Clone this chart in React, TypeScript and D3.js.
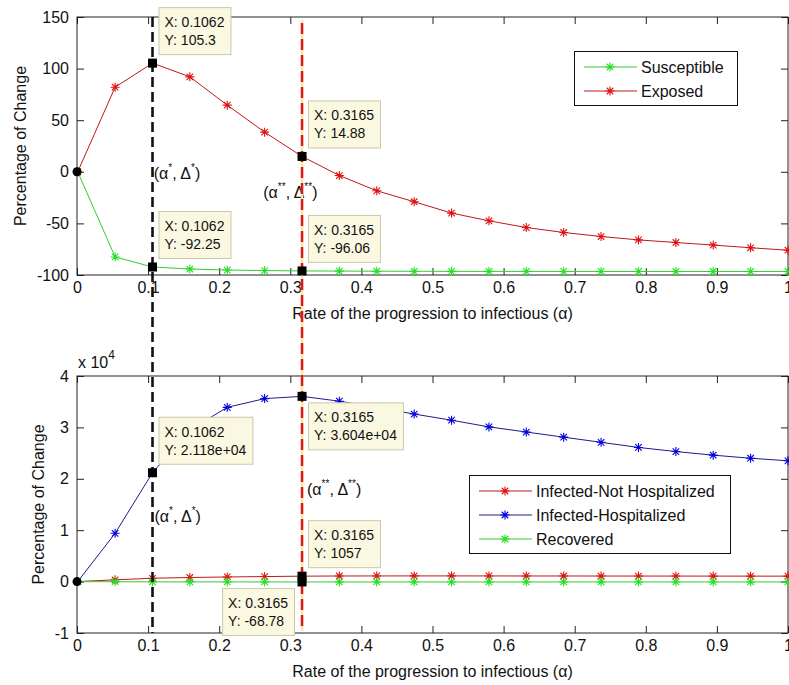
import React, { useEffect, useRef } from 'react';
import * as d3 from 'd3';

// rate of progression values (x) shared by every series
const alpha = [0.001, 0.0536, 0.1062, 0.1587, 0.2113, 0.2639, 0.3165, 0.369, 0.4216, 0.4742,
    0.5268, 0.5794, 0.6319, 0.6845, 0.7371, 0.7897, 0.8423, 0.8948, 0.9474, 1.0];

// top panel
const susceptible = [0, -82.5, -92.25, -94.2, -95.2, -95.7, -96.06, -96.2, -96.3, -96.4,
    -96.45, -96.5, -96.5, -96.55, -96.55, -96.6, -96.6, -96.6, -96.6, -96.6];
const exposed = [0, 82, 105.3, 92, 64.6, 38.4, 14.88, -3.6, -18.4, -29,
    -40, -47.5, -54, -58.8, -62.7, -66, -68.5, -71, -73.6, -76];

// bottom panel
const notHospitalized = [0, 350, 650, 800, 900, 980, 1057, 1090, 1100, 1105,
    1105, 1100, 1095, 1090, 1085, 1080, 1075, 1070, 1065, 1060];
const hospitalized = [0, 9400, 21180, 29500, 33900, 35600, 36040, 35100, 33900, 32600,
    31400, 30100, 29100, 28100, 27100, 26100, 25300, 24600, 24000, 23500];
const recovered = [0, -25, -48, -58, -64, -67, -68.78, -69.8, -70.3, -70.6,
    -70.8, -70.9, -71, -71, -71, -71, -71, -71, -71, -71];

const xTicks = [0, 0.1, 0.2, 0.3, 0.4, 0.5, 0.6, 0.7, 0.8, 0.9, 1];
const topYTicks = [-100, -50, 0, 50, 100, 150];
const bottomYTicks = [-10000, 0, 10000, 20000, 30000, 40000];

const alphaStar = 0.1062;
const alphaStarStar = 0.3165;

const topTips = [
    { x: 0.1062, y: 105.3, label: '105.3' },
    { x: 0.3165, y: 14.88, label: '14.88' },
    { x: 0.1062, y: -92.25, label: '-92.25' },
    { x: 0.3165, y: -96.06, label: '-96.06' },
];
const bottomTips = [
    { x: 0.1062, y: 21180, label: '2.118e+04' },
    { x: 0.3165, y: 36040, label: '3.604e+04' },
    { x: 0.3165, y: 1057, label: '1057' },
    { x: 0.3165, y: -68.78, label: '-68.78' },
];
const topTipPlace = ['ne', 'ne', 'ne', 'ne'];
const bottomTipPlace = ['ne', 'se', 'ne', 'sw'];

const topNotes = [
    { x: 0.108, y: -1, sup: '*' },
    { x: 0.262, y: -19.5, sup: '**' },
];
const bottomNotes = [
    { x: 0.109, y: 12800, sup: '*' },
    { x: 0.3235, y: 18000, sup: '**' },
];

const FONT = 'Liberation Sans, Arial, sans-serif';
const RED = { line: '#c01818', mark: '#e01010' };
const GREEN = { line: '#33cc33', mark: '#22e022' };
const BLUE = { line: '#1c1c90', mark: '#0000e0' };

const App = () => {
    const ref = useRef<SVGSVGElement>(null);

    useEffect(() => {
        const width = 789;
        const height = 685;
        const left = 77;
        const right = 788;
        const svg = d3.select(ref.current);
        svg.selectAll('*').remove();
        svg.attr('width', width).attr('height', height);

        svg.append('rect').attr('width', width).attr('height', height).attr('fill', 'white');

        const x = d3.scaleLinear().domain([0, 1]).range([left, right]);

        const star = (g, cx, cy, color) => {
            const r = 4.5;
            const d = r * 0.72;
            const p = `M${cx - r},${cy}L${cx + r},${cy}M${cx},${cy - r}L${cx},${cy + r}` +
                `M${cx - d},${cy - d}L${cx + d},${cy + d}M${cx - d},${cy + d}L${cx + d},${cy - d}`;
            g.append('path').attr('d', p).attr('stroke', color).attr('stroke-width', 1.1).attr('fill', 'none');
        };

        const panel = (top, bottom, yDomain, yTicks, yFmt, series, ylabelX) => {
            const y = d3.scaleLinear().domain(yDomain).range([bottom, top]);
            const g = svg.append('g');

            // axes with inward ticks on all four sides
            const styleAxis = (a) => {
                a.select('.domain').remove();
                a.selectAll('line').attr('stroke', '#222');
                a.selectAll('text').attr('font-family', FONT).attr('font-size', 16).attr('fill', '#111');
            };
            g.append('g').attr('transform', `translate(0,${bottom})`)
                .call(d3.axisBottom(x).tickValues(xTicks).tickSize(-7).tickSizeOuter(0).tickPadding(7)
                    .tickFormat(d => String(d)))
                .call(styleAxis);
            g.append('g').attr('transform', `translate(0,${top})`)
                .call(d3.axisTop(x).tickValues(xTicks).tickSize(-7).tickSizeOuter(0).tickFormat(() => ''))
                .call(styleAxis);
            g.append('g').attr('transform', `translate(${left},0)`)
                .call(d3.axisLeft(y).tickValues(yTicks).tickSize(-7).tickSizeOuter(0).tickPadding(8)
                    .tickFormat(yFmt))
                .call(styleAxis);
            g.append('g').attr('transform', `translate(${right},0)`)
                .call(d3.axisRight(y).tickValues(yTicks).tickSize(-7).tickSizeOuter(0).tickFormat(() => ''))
                .call(styleAxis);

            g.append('rect').attr('x', left).attr('y', top).attr('width', right - left).attr('height', bottom - top)
                .attr('fill', 'none').attr('stroke', '#222').attr('stroke-width', 1);

            // curves
            const line = d3.line().x(d => x(d[0])).y(d => y(d[1]));
            series.forEach(s => {
                const pts = alpha.map((a, i) => [a, s.values[i]]);
                g.append('path').attr('d', line(pts)).attr('fill', 'none')
                    .attr('stroke', s.color.line).attr('stroke-width', 1);
                pts.forEach(p => star(g, x(p[0]), y(p[1]), s.color.mark));
            });

            // origin marker
            g.append('circle').attr('cx', x(0)).attr('cy', y(0)).attr('r', 4.5).attr('fill', 'black');

            g.append('text')
                .attr('transform', `translate(${ylabelX},${(top + bottom) / 2}) rotate(-90)`)
                .attr('text-anchor', 'middle').attr('dominant-baseline', 'central')
                .attr('font-family', FONT).attr('font-size', 16).attr('fill', '#111')
                .text('Percentage of Change');

            g.append('text')
                .attr('x', (left + right) / 2).attr('y', bottom + 38)
                .attr('text-anchor', 'middle').attr('dominant-baseline', 'central')
                .attr('font-family', FONT).attr('font-size', 16).attr('fill', '#111')
                .text('Rate of the progression to infectious (\u03b1)');

            return y;
        };

        const yTop = panel(17, 275, [-100, 150], topYTicks, d => String(d),
            [{ values: susceptible, color: GREEN }, { values: exposed, color: RED }], 20);
        const yBot = panel(376, 633, [-10000, 40000], bottomYTicks, d => String(d / 10000),
            [{ values: notHospitalized, color: RED }, { values: hospitalized, color: BLUE }, { values: recovered, color: GREEN }], 38);

        // x 10^4 exponent
        const ex = svg.append('text').attr('x', 78).attr('y', 368)
            .attr('font-family', FONT).attr('font-size', 16).attr('fill', '#111');
        ex.append('tspan').text('x 10');
        ex.append('tspan').attr('font-size', 12).attr('dy', -9).text('4');

        // (alpha, delta) notes
        const note = (yScale, n) => {
            const t = svg.append('text').attr('x', x(n.x)).attr('y', yScale(n.y) + 6)
                .attr('font-family', FONT).attr('font-size', 16).attr('fill', '#111');
            t.append('tspan').text('(\u03b1');
            t.append('tspan').attr('font-size', 10).attr('dy', -8).text(n.sup);
            t.append('tspan').attr('dy', 8).text(', \u0394');
            t.append('tspan').attr('font-size', 10).attr('dy', -8).text(n.sup);
            t.append('tspan').attr('dy', 8).text(')');
        };
        topNotes.forEach(n => note(yTop, n));
        bottomNotes.forEach(n => note(yBot, n));

        // vertical reference lines through both panels
        svg.append('line').attr('x1', x(alphaStarStar)).attr('x2', x(alphaStarStar)).attr('y1', 20).attr('y2', 631)
            .attr('stroke', '#f1e9b0').attr('stroke-width', 2.5);
        svg.append('line').attr('x1', x(alphaStarStar)).attr('x2', x(alphaStarStar)).attr('y1', 20).attr('y2', 631)
            .attr('stroke', '#e01818').attr('stroke-width', 2.5).attr('stroke-dasharray', '11,5')
            .attr('stroke-dashoffset', -3);
        svg.append('line').attr('x1', x(alphaStar)).attr('x2', x(alphaStar)).attr('y1', 17).attr('y2', 633)
            .attr('stroke', '#111').attr('stroke-width', 2.6).attr('stroke-dasharray', '10,5');

        // data tips
        const tip = (yScale, t, place) => {
            const px = x(t.x);
            const py = yScale(t.y);
            svg.append('rect').attr('x', px - 4.5).attr('y', py - 4.5).attr('width', 9).attr('height', 9)
                .attr('fill', 'black');
            const g = svg.append('g');
            const box = g.append('rect').attr('fill', '#fbf8e2').attr('stroke', '#cbc7aa').attr('stroke-width', 1);
            const t1 = g.append('text').attr('font-family', FONT).attr('font-size', 14).attr('fill', '#111')
                .text(`X: ${t.x}`);
            const t2 = g.append('text').attr('font-family', FONT).attr('font-size', 14).attr('fill', '#111')
                .text(`Y: ${t.label}`);
            const w = Math.max(t1.node().getComputedTextLength(), t2.node().getComputedTextLength()) + 12;
            const h = 47;
            const bx = place === 'sw' ? px - 8 - w : px + 6;
            const by = place === 'ne' ? py - 56 : py + 6;
            box.attr('x', bx + 0.5).attr('y', by + 0.5).attr('width', w).attr('height', h);
            t1.attr('x', bx + 6).attr('y', by + 20);
            t2.attr('x', bx + 6).attr('y', by + 38);
        };
        topTips.forEach((t, i) => tip(yTop, t, topTipPlace[i]));
        bottomTips.forEach((t, i) => tip(yBot, t, bottomTipPlace[i]));

        // legends
        const legend = (bx, by, w, h, items) => {
            const g = svg.append('g');
            g.append('rect').attr('x', bx + 0.5).attr('y', by + 0.5).attr('width', w).attr('height', h)
                .attr('fill', 'white').attr('stroke', '#111').attr('stroke-width', 1);
            items.forEach((it, i) => {
                const yy = by + 16 + i * 24;
                g.append('line').attr('x1', bx + 10).attr('x2', bx + 63).attr('y1', yy).attr('y2', yy)
                    .attr('stroke', it.color.line).attr('stroke-width', 1);
                star(g, bx + 36, yy, it.color.mark);
                g.append('text').attr('x', bx + 67).attr('y', yy).attr('dominant-baseline', 'central')
                    .attr('font-family', FONT).attr('font-size', 16).attr('fill', '#111').text(it.name);
            });
        };
        legend(574, 51, 163, 54, [
            { name: 'Susceptible', color: GREEN },
            { name: 'Exposed', color: RED },
        ]);
        legend(469, 475, 261, 78, [
            { name: 'Infected-Not Hospitalized', color: RED },
            { name: 'Infected-Hospitalized', color: BLUE },
            { name: 'Recovered', color: GREEN },
        ]);
    }, []);

    return (
        <svg ref={ref} style={{ position: 'absolute', left: 0, top: 0, display: 'block' }}></svg>
    );
};

export default App;
